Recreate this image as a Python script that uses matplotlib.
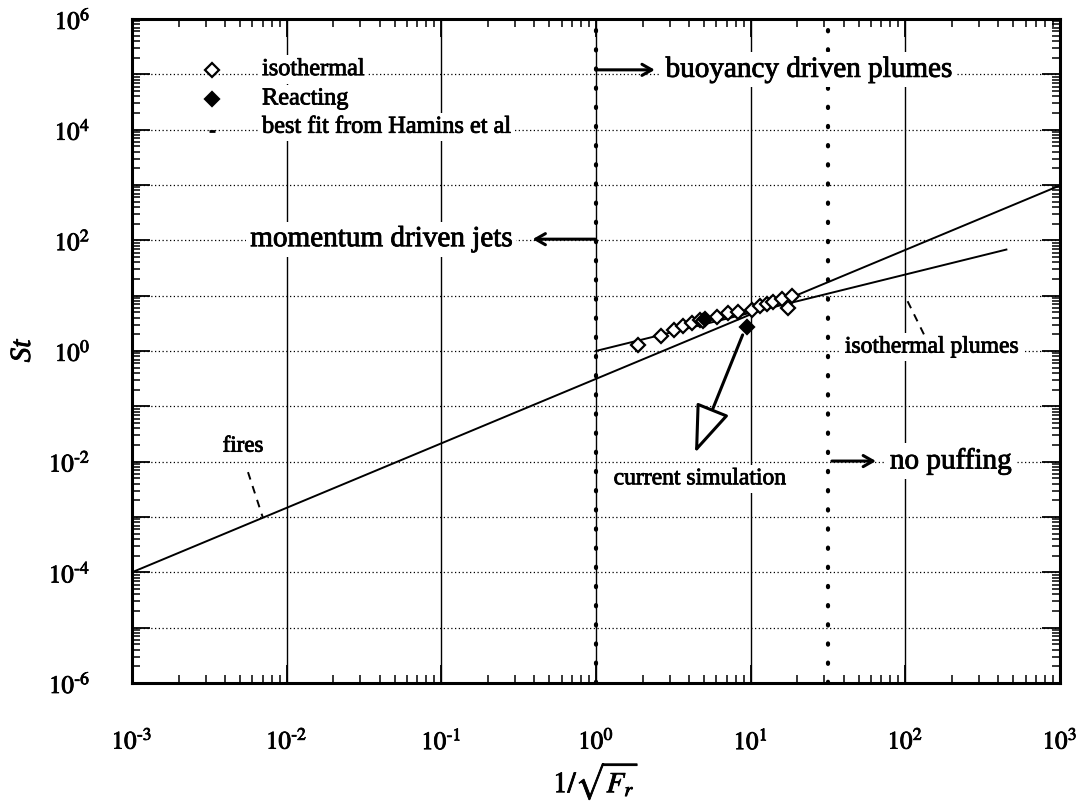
import matplotlib
matplotlib.use("Agg")
import matplotlib.pyplot as plt
import matplotlib.patheffects as pe
from matplotlib.ticker import LogLocator, NullFormatter
from matplotlib.patches import FancyArrowPatch

plt.rcParams["font.family"] = ["Liberation Serif", "DejaVu Serif"]
plt.rcParams["mathtext.fontset"] = "stix"

# Strouhal number against inverse square-root Froude number
iso_x = [1.88, 2.63, 3.19, 3.67, 4.16, 4.70, 4.95, 6.03, 7.17, 8.32,
         10.2, 11.5, 12.7, 14.0, 15.9, 18.4, 17.5]
iso_y = [1.29, 1.85, 2.43, 2.87, 3.17, 3.64, 3.55, 4.17, 4.81, 5.01,
         5.58, 6.59, 7.08, 7.79, 8.71, 9.75, 5.92]
react_x = [5.07, 9.42]
react_y = [3.79, 2.69]

# correlation for fires (Hamins et al.) across the full range
fire_x = [1e-3, 1e3]
fire_y = [1.0e-4, 9.8e2]
# correlation for isothermal plumes
plume_x = [1.0, 450.0]
plume_y = [1.0, 68.0]

# regime boundaries: jets/plumes and onset of puffing
regime_x = [1.0, 31.6]

x_ticks = [1e-3, 1e-2, 1e-1, 1e0, 1e1, 1e2, 1e3]
x_ticklabels = [r"$10^{\text{-}3}$", r"$10^{\text{-}2}$", r"$10^{\text{-}1}$",
                r"$10^{0}$", r"$10^{1}$", r"$10^{2}$", r"$10^{3}$"]
y_ticks = [1e-6, 1e-5, 1e-4, 1e-3, 1e-2, 1e-1, 1e0, 1e1, 1e2, 1e3, 1e4, 1e5, 1e6]
y_ticklabels = [r"$10^{\text{-}6}$", "", r"$10^{\text{-}4}$", "",
                r"$10^{\text{-}2}$", "", r"$10^{0}$", "", r"$10^{2}$", "",
                r"$10^{4}$", "", r"$10^{6}$"]

ink = [pe.withStroke(linewidth=0.6, foreground="black")]

fig = plt.figure(figsize=(10.81, 8.04), dpi=100)
ax = fig.add_axes([0.1221, 0.1493, 0.8585, 0.8259])
ax.set_xscale("log")
ax.set_yscale("log")
ax.set_xlim(1e-3, 1e3)
ax.set_ylim(1e-6, 1e6)

ax.set_xticks(x_ticks)
ax.set_xticklabels(x_ticklabels)
ax.set_yticks(y_ticks)
ax.set_yticklabels(y_ticklabels)
ax.xaxis.set_minor_locator(LogLocator(base=10, subs=range(2, 10), numticks=50))
ax.yaxis.set_minor_locator(LogLocator(base=10, subs=range(2, 10), numticks=50))
ax.xaxis.set_minor_formatter(NullFormatter())
ax.yaxis.set_minor_formatter(NullFormatter())

ax.tick_params(which="both", direction="in", top=True, right=True, color="black")
ax.tick_params(which="major", length=13, width=1.3, labelsize=18)
ax.tick_params(which="minor", length=6, width=1.1)
ax.tick_params(axis="x", which="major", pad=33)
ax.tick_params(axis="y", which="major", pad=30)
for lab in ax.get_xticklabels() + ax.get_yticklabels():
    lab.set_path_effects(ink)
for sp in ax.spines.values():
    sp.set_linewidth(2.2)

# grid: dotted horizontals, thin solid verticals
ax.yaxis.grid(True, which="major", color="black", lw=0.9, ls=(0, (1, 2)))
ax.xaxis.grid(True, which="major", color="black", lw=1.0, ls="-")
ax.set_axisbelow(True)

# regime boundaries
for xb in regime_x:
    ax.axvline(xb, color="black", lw=3.0, ls=(0, (0.3, 4.3)),
               dash_capstyle="round", zorder=2)

# correlations
ax.plot(fire_x, fire_y, color="black", lw=1.4, zorder=3)
ax.plot(plume_x, plume_y, color="black", lw=1.4, zorder=3)

# measurements
ax.plot(iso_x, iso_y, ls="none", marker="D", ms=7, mfc="white",
        mec="black", mew=1.6, zorder=4)
ax.plot(react_x, react_y, ls="none", marker="D", ms=7, mfc="black",
        mec="black", mew=1.6, zorder=5)

box = dict(boxstyle="square,pad=0.15", fc="white", ec="none")

# hand-made key
ax.plot([3.29e-3], [10**5.084], ls="none", marker="D", ms=7, mfc="white",
        mec="black", mew=1.6, zorder=5)
ax.plot([3.29e-3], [10**4.555], ls="none", marker="D", ms=7, mfc="black",
        mec="black", mew=1.6, zorder=5)
ax.plot([3.29e-3], [10**3.982], ls="none", marker="_", ms=5, mec="black",
        mew=2, zorder=5)
key_kw = dict(fontsize=17.5, ha="left", va="center", bbox=box, zorder=6,
              path_effects=ink)
ax.text(6.93e-3, 10**5.084, "isothermal", **key_kw)
ax.text(6.93e-3, 10**4.555, "Reacting", **key_kw)
ax.text(6.93e-3, 10**4.043, "best fit from Hamins et al", **key_kw)

arrow_kw = dict(arrowstyle="->,head_length=0.7,head_width=0.4", lw=2.2,
                color="black", shrinkA=0, shrinkB=0)

# regime labels
ax.annotate("", xy=(10**0.38, 10**5.08), xytext=(1.02, 10**5.08),
            arrowprops=arrow_kw, zorder=6)
ax.text(10**0.45, 10**5.08, "buoyancy driven plumes", fontsize=21,
        ha="left", va="center", bbox=box, zorder=6, path_effects=ink)

ax.annotate("", xy=(10**-0.41, 10**2.02), xytext=(0.99, 10**2.02),
            arrowprops=arrow_kw, zorder=6)
ax.text(10**-1.39, 10**2.02, "momentum driven jets", fontsize=21,
        ha="center", va="center", bbox=box, zorder=6, path_effects=ink)

ax.annotate("", xy=(10**1.81, 10**-1.99), xytext=(10**1.525, 10**-1.99),
            arrowprops=arrow_kw, zorder=6)
ax.text(10**1.90, 10**-1.99, "no puffing", fontsize=21,
        ha="left", va="center", bbox=box, zorder=6, path_effects=ink)

ax.text(148.6, 10**0.07, "isothermal plumes", fontsize=17,
        ha="center", va="center", bbox=box, zorder=6, path_effects=ink)
ax.plot([10**2.12, 10**2.0], [10**0.30, 10**0.98], color="black", lw=1.4,
        ls=(0, (4, 3.5)), zorder=6)

ax.text(5.22e-3, 10**-1.72, "fires", fontsize=16.5,
        ha="center", va="center", bbox=box, zorder=6, path_effects=ink)
ax.plot([10**-2.25, 10**-2.153], [10**-2.19, 10**-3.02], color="black", lw=1.4,
        ls=(0, (4, 3.5)), zorder=6)

ax.text(4.70, 10**-2.31, "current simulation", fontsize=17,
        ha="center", va="center", bbox=box, zorder=6, path_effects=ink)
sim_arrow = FancyArrowPatch((10**0.948, 10**0.29), (10**0.640, 10**-1.843),
                            arrowstyle="-|>,head_length=1.5,head_width=0.55",
                            mutation_scale=20, fc="white", ec="black", lw=2.2,
                            shrinkA=0, shrinkB=0, zorder=6)
ax.add_patch(sim_arrow)

ax.set_ylabel("St", fontsize=21, style="italic", rotation=90, va="center",
              path_effects=ink)
ax.yaxis.set_label_coords(-0.1175, 0.5)
ax.set_xlabel(r"$1/\sqrt{F_r}$", fontsize=21, va="center", path_effects=ink)
ax.xaxis.set_label_coords(0.5, -0.1476)

fig.savefig("out.png", dpi=100)
